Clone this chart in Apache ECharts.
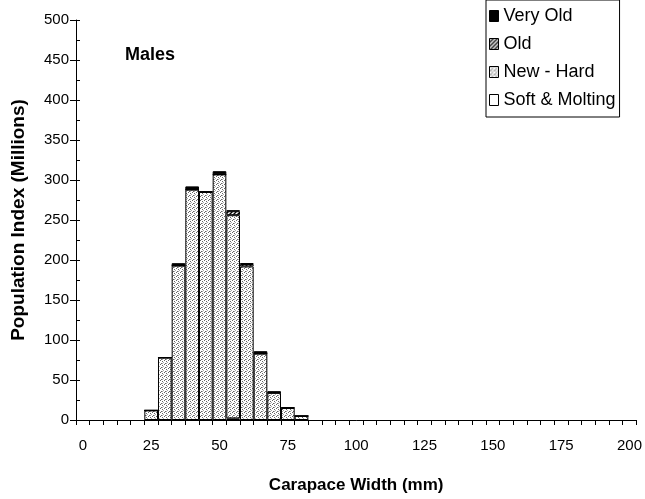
<!DOCTYPE html>
<html>
<head>
<meta charset="utf-8">
<script src="https://cdn.jsdelivr.net/npm/echarts@6/dist/echarts.min.js"></script>
<style>
  html, body { margin: 0; padding: 0; background: #fff; }
  #chart { width: 645px; height: 499px; }
</style>
</head>
<body>
<div id="chart"></div>
<script>
// x categories (5 mm classes), labels shown every 25 mm
var widthClasses = ['0','5','10','15','20','25','30','35','40','45','50','55','60','65','70','75','80','85','90','95','100',
  '105','110','115','120','125','130','135','140','145','150','155','160','165','170','175','180','185','190','195','200'];

// classes that hold crabs
var bins = ['25','30','35','40','45','50','55','60','65','70','75','80'];

// population index (millions) by shell condition
var softMolting = [0, 0, 0, 0, 0, 0, 2, 0, 0, 0, 0, 0];
var newHard     = [12, 78, 193, 288, 285, 307, 254, 192, 83, 34, 15, 5];
var oldShell    = [0, 0, 0, 0, 0, 0, 5, 3, 0, 0, 0, 0];
var veryOld     = [0, 0, 3, 4, 1, 4, 1, 1, 3, 2, 1, 0];

var font = "'Liberation Sans', Arial, sans-serif";

// stipple fill for new shell
function stipple() {
  var c = document.createElement('canvas');
  c.width = 4; c.height = 4;
  var g = c.getContext('2d');
  g.fillStyle = '#fff';
  g.fillRect(0, 0, 4, 4);
  g.fillStyle = '#666';
  g.fillRect(0, 0, 1, 1);
  g.fillRect(2, 1, 1, 1);
  g.fillRect(1, 3, 1, 1);
  g.fillStyle = '#aaa';
  g.fillRect(3, 2, 1, 1);
  g.fillRect(2, 3, 1, 1);
  return { image: c, repeat: 'repeat' };
}

// diagonal hatch for old shell
function hatch() {
  var c = document.createElement('canvas');
  c.width = 4; c.height = 4;
  var g = c.getContext('2d');
  g.fillStyle = '#fff';
  g.fillRect(0, 0, 4, 4);
  g.strokeStyle = '#000';
  g.lineWidth = 1.3;
  g.beginPath();
  g.moveTo(-1, 5); g.lineTo(5, -1);
  g.moveTo(-1, 1); g.lineTo(1, -1);
  g.moveTo(3, 5); g.lineTo(5, 3);
  g.stroke();
  return { image: c, repeat: 'repeat' };
}

function pairs(vals) {
  return bins.map(function (b, i) { return [b, vals[i]]; });
}

function barSeries(name, vals, color) {
  return {
    name: name,
    type: 'bar',
    stack: 'total',
    barCategoryGap: 0,
    data: pairs(vals),
    itemStyle: { color: color, borderColor: '#000', borderWidth: 1 },
    emphasis: { disabled: true },
    animation: false
  };
}

var myChart = echarts.init(document.getElementById('chart'));

var option = {
  backgroundColor: '#fff',
  animation: false,
  textStyle: { fontFamily: font },
  grid: { left: 76, right: 8, top: 20, bottom: 76 },
  legend: {
    orient: 'vertical',
    left: 486,
    top: 0,
    padding: [7, 4, 8, 3],
    itemGap: 10,
    itemWidth: 9,
    itemHeight: 11,
    itemTextGap: 2,
    icon: 'rect',
    borderColor: '#000',
    borderWidth: 1,
    backgroundColor: '#fff',
    selectedMode: false,
    itemStyle: { borderColor: '#000', borderWidth: 1 },
    textStyle: { fontFamily: font, fontSize: 18, color: '#000' },
    data: ['Very Old', 'Old', 'New - Hard', 'Soft & Molting']
  },
  graphic: [{
    type: 'text',
    left: 125,
    top: 46,
    style: { text: 'Males', font: 'bold 18px ' + font, fill: '#000' }
  }],
  xAxis: {
    type: 'category',
    data: widthClasses,
    boundaryGap: true,
    name: 'Carapace Width (mm)',
    nameLocation: 'middle',
    nameGap: 57,
    nameTextStyle: { fontFamily: font, fontSize: 17, fontWeight: 'bold', color: '#000' },
    axisLine: { lineStyle: { color: '#000', width: 1 } },
    axisTick: { show: true, interval: 0, length: 5, lineStyle: { color: '#000' } },
    axisLabel: { interval: 4, margin: 18, fontSize: 15, color: '#000', fontFamily: font },
    splitLine: { show: false }
  },
  yAxis: [{
    type: 'value',
    min: 0,
    max: 500,
    interval: 50,
    name: 'Population Index (Millions)',
    nameLocation: 'middle',
    nameGap: 48,
    nameTextStyle: { fontFamily: font, fontSize: 19, fontWeight: 'bold', color: '#000' },
    axisLine: { show: true, lineStyle: { color: '#000', width: 1 } },
    axisTick: { show: true, length: 6, lineStyle: { color: '#000' } },
    axisLabel: { margin: 7, fontSize: 15, color: '#000', fontFamily: font },
    splitLine: { show: false }
  }, {
    type: 'value',
    position: 'left',
    min: 0,
    max: 500,
    interval: 25,
    axisLine: { show: false },
    axisTick: { show: true, inside: true, length: 4, lineStyle: { color: '#000' } },
    axisLabel: { show: false },
    splitLine: { show: false }
  }],
  series: [
    barSeries('Soft & Molting', softMolting, '#fff'),
    barSeries('New - Hard', newHard, stipple()),
    barSeries('Old', oldShell, hatch()),
    barSeries('Very Old', veryOld, '#000')
  ]
};

myChart.setOption(option);
</script>
</body>
</html>
